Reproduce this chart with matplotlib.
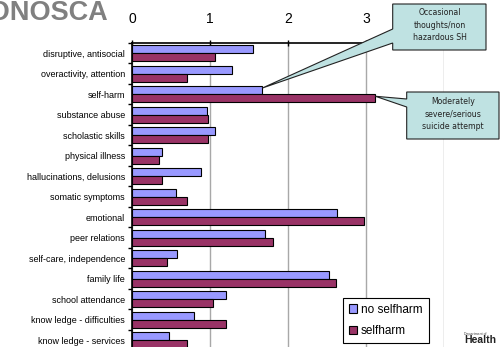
import matplotlib.pyplot as plt
from matplotlib.patches import Polygon

plt.rcParams['font.family'] = ['Liberation Sans', 'DejaVu Sans']

# Data
categories = ['disruptive, antisocial', 'overactivity, attention', 'self-harm',
              'substance abuse', 'scholastic skills', 'physical illness',
              'hallucinations, delusions', 'somatic symptoms', 'emotional',
              'peer relations', 'self-care, independence', 'family life',
              'school attendance', 'know ledge - difficulties', 'know ledge - services']
no_selfharm = [1.55, 1.28, 1.67, 0.96, 1.06, 0.38, 0.88, 0.57, 2.63,
               1.71, 0.58, 2.53, 1.21, 0.80, 0.47]
selfharm = [1.07, 0.71, 3.12, 0.97, 0.97, 0.35, 0.39, 0.70, 2.97,
            1.81, 0.45, 2.61, 1.04, 1.20, 0.70]
x_ticks = [0, 1, 2, 3, 4]
x_ticklabels = ['0', '1', '2', '3', '']  # "4" sits behind the callout

W, H = 503, 347
fig = plt.figure(figsize=(W / 100, H / 100), dpi=100)
ax = fig.add_axes([132 / W, -0.010, 312 / W, 307.5 / H])

rows = list(range(len(categories)))
ax.barh([r - 0.2 for r in rows], no_selfharm, height=0.38, color='#9999ff',
        edgecolor='black', linewidth=0.8, label='no selfharm', zorder=3)
ax.barh([r + 0.2 for r in rows], selfharm, height=0.38, color='#993366',
        edgecolor='black', linewidth=0.8, label='selfharm', zorder=3)

ax.set_xlim(0, 4)
ax.set_ylim(len(categories) - 0.5, -0.5)
ax.xaxis.tick_top()
ax.set_xticks(x_ticks)
ax.set_xticklabels(x_ticklabels)
ax.tick_params(axis='x', direction='inout', length=5, width=1, labelsize=10, pad=10)
ax.set_yticks(rows)
ax.set_yticklabels(categories)
ax.tick_params(axis='y', length=0, labelsize=6.5, pad=5)
ax.set_yticks([r - 0.5 for r in rows] + [len(rows) - 0.5], minor=True)
ax.tick_params(axis='y', which='minor', length=3, width=1, direction='out')
ax.grid(axis='x', color='#a8a8a8', linewidth=1, zorder=0)
ax.spines['right'].set_visible(False)
ax.spines['bottom'].set_visible(False)
ax.spines['top'].set_linewidth(1.2)
ax.spines['left'].set_linewidth(1.2)

leg = ax.legend(loc='upper left', bbox_to_anchor=(342.7 / W, 1 - 297.7 / H),
                bbox_transform=fig.transFigure, fontsize=8.5, frameon=True,
                fancybox=False, edgecolor='black', framealpha=1,
                handlelength=0.75, handleheight=0.75, handletextpad=0.3,
                labelspacing=0.8, borderpad=0.5, borderaxespad=0)
leg.get_frame().set_linewidth(0.8)
leg.set_zorder(10)


def px(x, y):
    return (x / W, 1 - y / H)


def tip(value, ypos):
    d = ax.transData.transform((value, ypos))
    return tuple(fig.transFigure.inverted().transform(d))


# callouts
fig.canvas.draw()
t1 = tip(no_selfharm[2], 2 - 0.3)
c1 = [px(392.7, 4), px(486, 4), px(486, 50), px(392.7, 50), px(392.7, 43), t1, px(392.7, 29)]
fig.patches.append(Polygon(c1, closed=True, transform=fig.transFigure, facecolor='#bfe2e2',
                           edgecolor='#222222', linewidth=0.8, zorder=20))
fig.text(*px(439.5, 25), 'Occasional\nthoughts/non\nhazardous SH', ha='center', va='center',
         fontsize=5.6, family='DejaVu Sans', color='#222222', linespacing=1.45, zorder=21)

t2 = tip(selfharm[2], 2 + 0.1)
c2 = [px(406.7, 92), px(499, 92), px(499, 139), px(406.7, 139), px(406.7, 107), t2, px(406.7, 99)]
fig.patches.append(Polygon(c2, closed=True, transform=fig.transFigure, facecolor='#bfe2e2',
                           edgecolor='#222222', linewidth=0.8, zorder=20))
fig.text(*px(453, 114), 'Moderately\nsevere/serious\nsuicide attempt', ha='center', va='center',
         fontsize=5.6, family='DejaVu Sans', color='#222222', linespacing=1.45, zorder=21)

# title (cut off at the top-left) and logo
fig.text(*px(108, 20), 'HONOSCA', ha='right', va='baseline', fontsize=19.5,
         fontweight='bold', color='#808080')
fig.text(*px(464, 335), 'Department of', ha='left', va='baseline', fontsize=2.5, color='#444444')
fig.text(*px(464, 343), 'Health', ha='left', va='baseline', fontsize=7.5,
         fontweight='bold', color='#222222')

fig.savefig('out.png', dpi=100)
